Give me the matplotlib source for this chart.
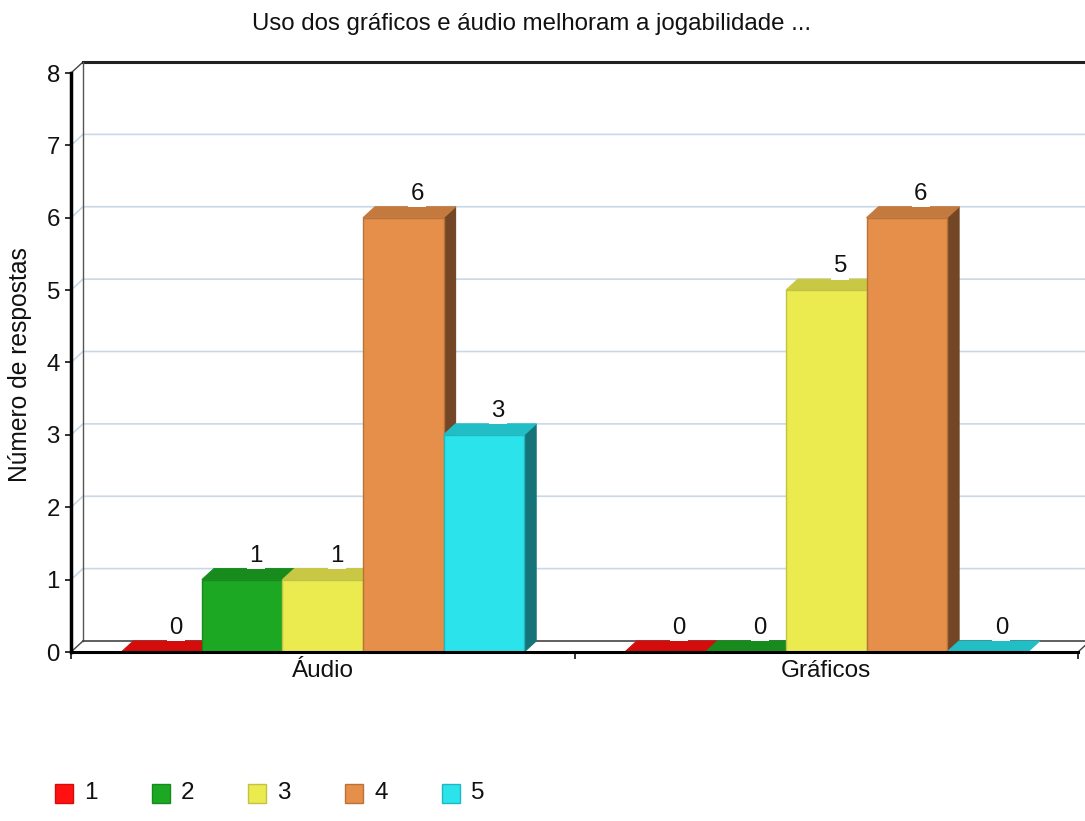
import matplotlib
matplotlib.use("Agg")
import matplotlib.pyplot as plt
from matplotlib.patches import Polygon, Rectangle
from matplotlib.lines import Line2D

plt.rcParams['font.family'] = ['Liberation Sans', 'DejaVu Sans']

# ---- data ----
title = "Uso dos gráficos e áudio melhoram a jogabilidade ..."
ylabel = "Número de respostas"
categories = ["Áudio", "Gráficos"]
series_names = ["1", "2", "3", "4", "5"]
values = {
    "1": [0, 0],
    "2": [1, 0],
    "3": [1, 5],
    "4": [6, 6],
    "5": [3, 0],
}
yticks = [0, 1, 2, 3, 4, 5, 6, 7, 8]

# ---- styles ----
front_c = ['#ff1111', '#1ca823', '#ebeb50', '#e68f4a', '#2ae3eb']
top_c = ['#d40c0c', '#178c1d', '#c8c844', '#c47a3f', '#22bec6']
side_c = ['#8a0808', '#0f5c13', '#8c8c2e', '#734625', '#167479']
edge_c = ['#d40c0c', '#168a1d', '#c2c245', '#b97339', '#20b8c0']

W, H = 1085, 821
fig = plt.figure(figsize=(W / 100, H / 100), dpi=100)
L, R, B, T = 71, 1078, 652, 73
ax = fig.add_axes([L / W, 1 - B / H, (R - L) / W, (B - T) / H])
ax.set_xlim(-0.5, 1.5)
ax.set_ylim(0, 8)

ppx = (R - L) / 2.0
ppy = (B - T) / 8.0
dx = 12 / ppx
dy = 11 / ppy

# back wall / grid
grid_col = '#c9d8e7'
for v in yticks[1:-1]:
    ax.add_line(Line2D([-0.5, -0.5 + dx, 1.5 + dx], [v, v + dy, v + dy],
                       color=grid_col, lw=1.2, zorder=1, clip_on=False))
ax.add_line(Line2D([-0.5, -0.5 + dx], [8, 8 + dy], color='#444444', lw=1, zorder=1, clip_on=False))
ax.add_line(Line2D([-0.5 + dx, 1.5 + dx], [8 + dy, 8 + dy], color='#222222', lw=2.2, zorder=1, clip_on=False))
ax.add_line(Line2D([-0.5 + dx, -0.5 + dx], [dy, 8 + dy], color='#555555', lw=1, zorder=1, clip_on=False))
# floor
ax.add_line(Line2D([-0.5 + dx, 1.5 + dx], [dy, dy], color='#444444', lw=1.2, zorder=1, clip_on=False))
ax.add_line(Line2D([-0.5, -0.5 + dx], [0, dy], color='#444444', lw=1, zorder=1, clip_on=False))
ax.add_line(Line2D([1.5, 1.5 + dx], [0, dy], color='#444444', lw=1, zorder=1, clip_on=False))

# bars
bw = 0.16
n = len(series_names)
for ci, cat in enumerate(categories):
    for si, s in enumerate(series_names):
        v = values[s][ci]
        x0 = ci - bw * n / 2 + si * bw
        z = 3 + si * 3
        # side face
        if v > 0:
            ax.add_patch(Polygon([(x0 + bw, 0), (x0 + bw + dx, dy), (x0 + bw + dx, v + dy), (x0 + bw, v)],
                                 closed=True, facecolor=side_c[si], edgecolor=side_c[si], lw=0.8,
                                 zorder=z, clip_on=False))
        # top face
        ax.add_patch(Polygon([(x0, v), (x0 + bw, v), (x0 + bw + dx, v + dy), (x0 + dx, v + dy)],
                             closed=True, facecolor=top_c[si], edgecolor=top_c[si], lw=0.8,
                             zorder=z + 1, clip_on=False))
        # front face
        if v > 0:
            ax.bar(x0, v, width=bw, align='edge', color=front_c[si], edgecolor=edge_c[si],
                   lw=1, zorder=z + 2)
        ax.annotate(str(v), xy=(x0 + bw / 2 + dx, v + dy), xytext=(2, 2),
                    textcoords='offset pixels', ha='center', va='bottom', fontsize=17.3,
                    color='#111111', zorder=30,
                    bbox=dict(boxstyle='square,pad=0.1', facecolor='white', edgecolor='none'))

# axes styling
for sp in ['top', 'right']:
    ax.spines[sp].set_visible(False)
ax.spines['left'].set_linewidth(2.5)
ax.spines['bottom'].set_linewidth(2.2)
ax.spines['left'].set_zorder(40)
ax.spines['bottom'].set_zorder(40)
ax.set_yticks(yticks)
ax.set_yticklabels([str(t) for t in yticks])
ax.tick_params(axis='y', length=4, width=1.2, pad=4, labelsize=17.3, colors='#111111')
ax.set_xticks([0, 1])
ax.set_xticklabels(categories)
ax.tick_params(axis='x', which='major', length=0, pad=6, labelsize=17.5, colors='#111111')
ax.set_xticks([-0.5, 0.5, 1.5], minor=True)
ax.tick_params(axis='x', which='minor', length=5, width=1.2, color='#111111')
ax.set_facecolor('none')

fig.text(532 / W, 1 - 24 / H, title, ha='center', va='center', fontsize=17.3, color='#111111')
fig.text(20 / W, 1 - 365 / H, ylabel, ha='center', va='center', rotation=90,
         fontsize=17.7, color='#111111')

# legend
leg_y = 793
for si, s in enumerate(series_names):
    lx = 55 + si * 96.7
    fig.add_artist(Rectangle((lx / W, 1 - (leg_y + 9.5) / H), 18 / W, 19 / H,
                             transform=fig.transFigure, facecolor=front_c[si],
                             edgecolor=edge_c[si], lw=1))
    fig.text((lx + 29) / W, 1 - leg_y / H, s, ha='left', va='center', fontsize=17.5,
             color='#111111')

fig.savefig('out.png', dpi=100)
